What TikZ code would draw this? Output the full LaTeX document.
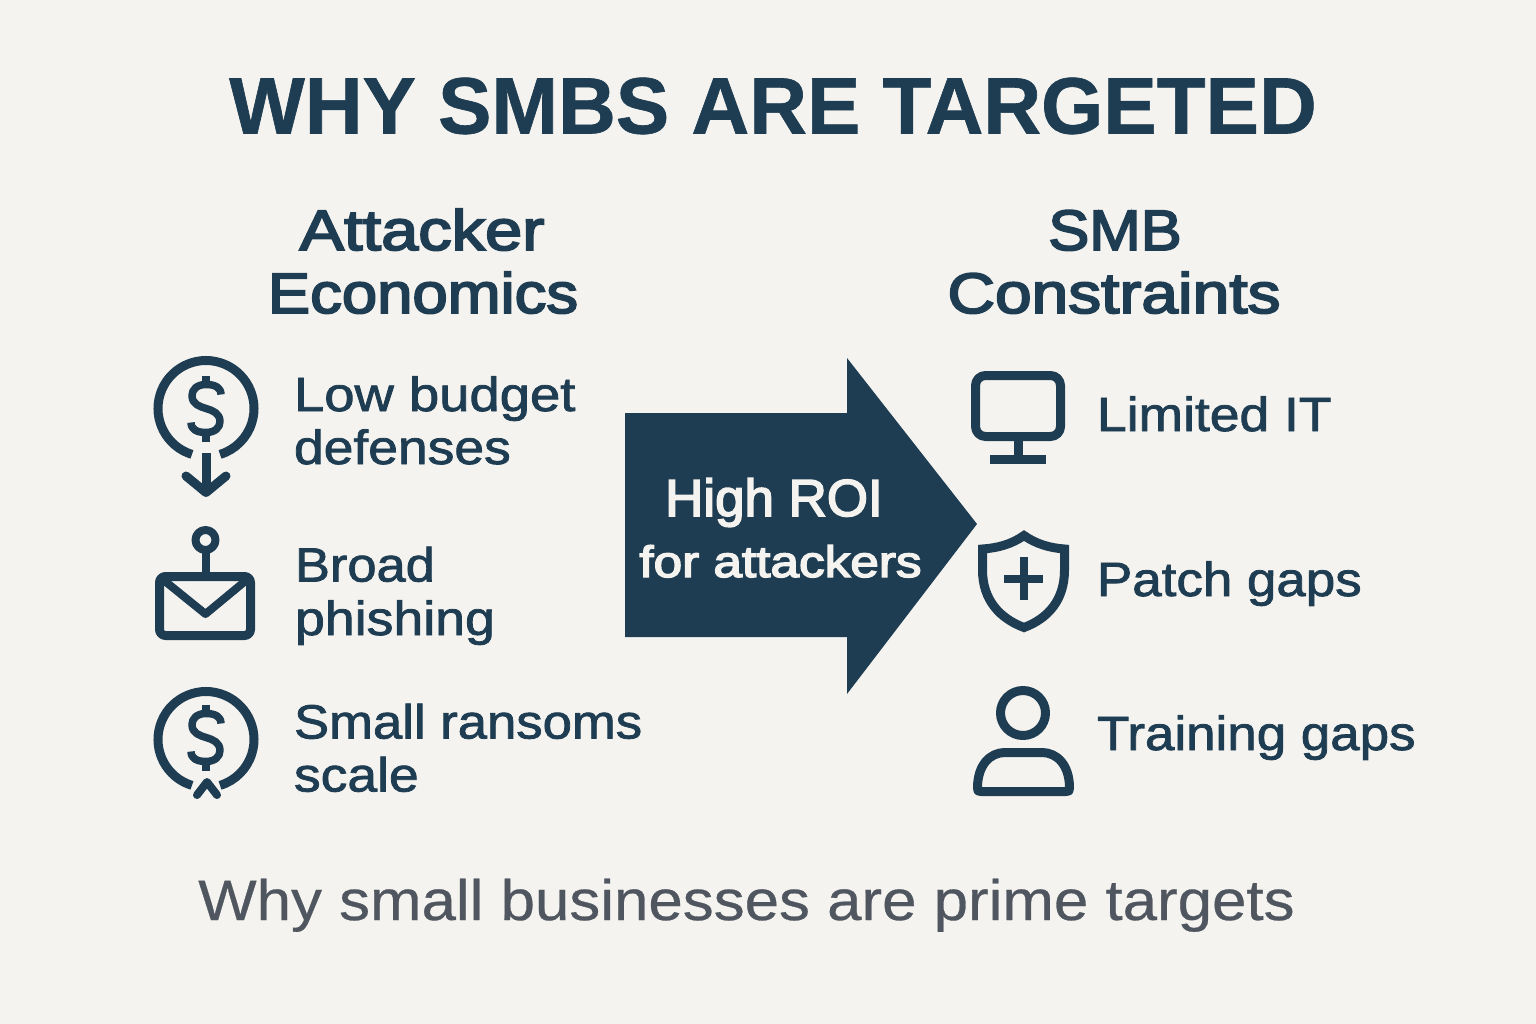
\documentclass[tikz,border=0pt]{standalone}
\usepackage{fontspec}
\setmainfont{Liberation Sans}
\newfontfamily\titlefont[FakeBold=0.8]{Liberation Sans Bold}
\newfontfamily\medfont[FakeStretch=1.06,FakeBold=1.6]{Liberation Sans}
\newfontfamily\headfont[FakeStretch=1.06,FakeBold=3.2]{Liberation Sans}
\newfontfamily\regfont[FakeStretch=1.085,FakeBold=0.5]{Liberation Sans}
\definecolor{ink}{HTML}{1F3D52}
\definecolor{paper}{HTML}{F4F3EF}
\definecolor{greytxt}{HTML}{50565F}
\newcommand{\fs}[1]{\fontsize{#1}{#1}\selectfont}
\newcommand{\hs}[2]{\scalebox{#1}[1]{#2}}
\newcommand{\dollarsign}[2]{%
  \draw[icon,line width=7.5pt,line cap=butt] (#1+15,#2-14) .. controls (#1+15,#2-21) and (#1+9,#2-24) .. (#1,#2-24)
    .. controls (#1-9,#2-24) and (#1-14,#2-19) .. (#1-14,#2-13)
    .. controls (#1-14,#2-4) and (#1-6,#2-2) .. (#1,#2)
    .. controls (#1+7,#2+2) and (#1+14,#2+5) .. (#1+14,#2+13)
    .. controls (#1+14,#2+19) and (#1+9,#2+24) .. (#1,#2+24)
    .. controls (#1-9,#2+24) and (#1-15,#2+21) .. (#1-15,#2+14);
  \draw[icon,line width=7.5pt,line cap=butt] (#1,#2-33) -- (#1,#2-24) (#1,#2+24) -- (#1,#2+33);
}
\tikzset{
  x=1pt,y=-1pt,
  icon/.style={draw=ink,line width=9pt,line join=round,line cap=round},
  txt/.style={inner sep=0pt,outer sep=0pt,text=ink,font=\medfont\fs{48}},
  lft/.style={txt,anchor=base west},
  ctr/.style={txt,anchor=base},
  headtxt/.style={ctr,font=\headfont\fs{57}},
  banner/.style={ctr,text=paper},
}
\begin{document}
\begin{tikzpicture}
\useasboundingbox (0,0) rectangle (1536,1024);
\fill[paper] (0,0) rectangle (1536,1024);
\node[ctr,font=\titlefont\fs{80}] (title) at (773,133.5) {WHY SMBS ARE TARGETED};
\node[headtxt] (h1a) at (422,250) {\hs{1.105}{Attacker}};
\node[headtxt] (h1b) at (423,313) {\hs{1.05}{Economics}};
\node[headtxt] (h2a) at (1115,250) {\hs{1.02}{SMB}};
\node[headtxt] (h2b) at (1114,313) {\hs{1.09}{Constraints}};
\node[lft] (a1a) at (294,411) {\hs{1.07}{Low budget}};
\node[lft] (a1b) at (294,464) {\hs{1.05}{defenses}};
\node[lft] (a2a) at (295,581.5) {\hs{1.03}{Broad}};
\node[lft] (a2b) at (295,635) {\hs{1.055}{phishing}};
\node[lft] (a3a) at (294,738.5) {\hs{1.035}{Small ransoms}};
\node[lft] (a3b) at (294,791.5) {\hs{1.05}{scale}};
\node[lft] (c1) at (1097,431) {\hs{1.05}{Limited IT}};
\node[lft] (c2) at (1097,596) {\hs{1.04}{Patch gaps}};
\node[lft] (c3) at (1097,750) {\hs{1.04}{Training gaps}};
% central arrow
\fill[ink] (625,413) -- (847,413) -- (847,358) -- (977,524) -- (847,694) -- (847,637) -- (625,637) -- cycle;
\node[banner,font=\headfont\fs{52}] (r1) at (774,516) {\hs{.96}{High ROI}};
\node[banner,font=\headfont\fs{44}] (r2) at (780.5,577) {\hs{1.10}{for attackers}};
\node[ctr,font=\regfont\fs{57},text=greytxt] (foot) at (746.5,920) {Why small businesses are prime targets};
% icon 1
\draw[icon,line cap=butt] (206,408.5) ++(107:48) arc[start angle=107,end angle=433,radius=48];
\dollarsign{206}{408.5}
\draw[icon,line cap=butt] (206,453) -- (206,490);
\draw[icon] (186,476) -- (206,492.5) -- (226,476);
% icon 2
\draw[icon,rounded corners=6pt] (159.5,576.5) rectangle (250.5,635.5);
\draw[icon,line width=8pt] (161,578) -- (205.5,614) -- (249,578);
\draw[icon,line width=8pt] (205.5,540) circle[radius=10];
\draw[icon,line width=8pt,line cap=butt] (205.5,551) -- (205.5,575);
% icon 3
\draw[icon,line cap=butt] (206,739.5) ++(107:48) arc[start angle=107,end angle=433,radius=48];
\dollarsign{206}{737.5}
\draw[icon,line width=8pt] (197,795) -- (207,782) -- (217,795);
% monitor
\draw[icon,rounded corners=10pt] (975.5,375.5) rectangle (1060.5,436.5);
\draw[icon,line cap=butt] (1018,441) -- (1018,456);
\draw[icon,line width=9pt,line cap=butt] (990,459.5) -- (1046,459.5);
% shield
\draw[icon,line join=miter] (1024,535.5) .. controls (1012,544) and (998,548) .. (982.5,549) -- (982.5,570)
  .. controls (982.5,600) and (1000,618.5) .. (1024,627.5)
  .. controls (1048,618.5) and (1064.5,600) .. (1064.5,570) -- (1064.5,549)
  .. controls (1050,548) and (1036,544) .. (1024,535.5) -- cycle;
\draw[icon,line width=8pt,line cap=butt] (1004,579) -- (1043,579) (1024,557) -- (1024,600);
% person
\draw[icon] (1023,713) circle[radius=22.5];
\draw[icon] (977.5,788) .. controls (977.5,765) and (990,752.5) .. (1005,752.5) -- (1042,752.5)
  .. controls (1057,752.5) and (1069.5,765) .. (1069.5,788) .. controls (1069.5,791) and (1069,791.5) .. (1066,791.5)
  -- (981,791.5) .. controls (978,791.5) and (977.5,791) .. (977.5,788) -- cycle;
\end{tikzpicture}
\end{document}
